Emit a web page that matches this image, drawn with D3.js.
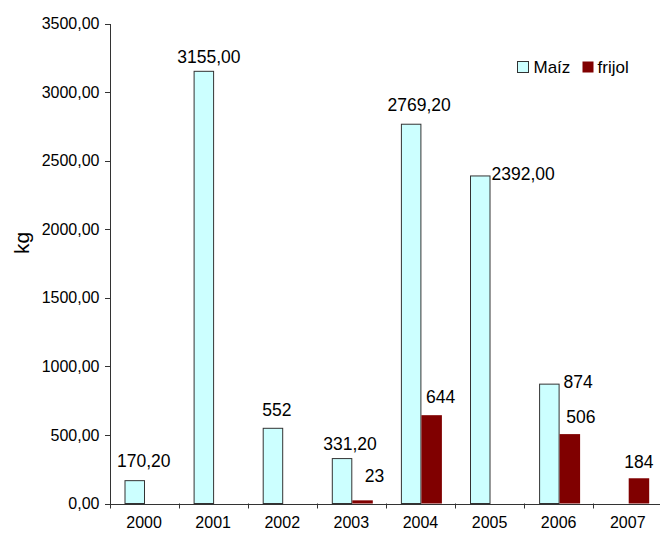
<!DOCTYPE html>
<html>
<head>
<meta charset="utf-8">
<script src="https://cdn.jsdelivr.net/npm/d3@7"></script>
<style>
  html, body { margin: 0; padding: 0; background: #fff; }
  svg { display: block; font-family: "Liberation Sans", Arial, sans-serif; }
</style>
</head>
<body>
<svg id="chart" width="660" height="534"></svg>
<script>
// Harvest per year (kg)
const years = ["2000", "2001", "2002", "2003", "2004", "2005", "2006", "2007"];
const maiz = [170.2, 3155.0, 552, 331.2, 2769.2, 2392.0, 874, null];
const frijol = [null, null, null, 23, 644, null, 506, 184];
const seriesNames = ["Maíz", "frijol"];
const maizLabels = ["170,20", "3155,00", "552", "331,20", "2769,20", "2392,00", "874", ""];
const frijolLabels = ["", "", "", "23", "644", "", "506", "184"];
const yTicks = [0, 500, 1000, 1500, 2000, 2500, 3000, 3500];

const colors = { "Maíz": "#CCFFFF", "frijol": "#800000" };

// Label placement: dx from bar centre, gap above bar top; "side" puts the label beside the bar
const maizLabelPos = [
  { dx: 9, gap: 13 }, { dx: 5, gap: 8 }, { dx: 4, gap: 11.5 }, { dx: 8, gap: 8 },
  { dx: 8, gap: 13 }, { side: 1, dy: 4.3 }, { side: 4, dy: 4 }, null
];
const frijolLabelPos = [
  null, null, null, { dx: 12, gap: 18.5 }, { dx: 9, gap: 12 }, null, { dx: 11, gap: 11 }, { dx: 0, gap: 10.6 }
];

const svg = d3.select("#chart");
const plotLeft = 109.5, plotRight = 662.3, plotTop = 23.5, plotBottom = 503.5;

const x0 = d3.scaleBand().domain(years).range([plotLeft, plotRight]).padding(0);
const x1 = d3.scaleBand().domain(seriesNames).range([15, 56]).padding(0);
const y = d3.scaleLinear().domain([0, 3500]).range([plotBottom, plotTop]);

const locale = d3.formatLocale({ decimal: ",", thousands: "", grouping: [3], currency: ["", ""] });
const fmt = locale.format(".2f");

// Y axis
const yAxis = svg.append("g")
  .attr("transform", `translate(${plotLeft},0)`)
  .call(d3.axisLeft(y).tickValues(yTicks).tickFormat(fmt).tickSize(5).tickPadding(5));
yAxis.selectAll("path, line").attr("stroke", "#333").attr("shape-rendering", "crispEdges");
yAxis.selectAll("text").attr("font-size", 16).attr("fill", "#000")
  .attr("font-family", "'Liberation Sans', Arial, sans-serif");

// Bars
const groups = svg.append("g").selectAll("g")
  .data(years)
  .join("g")
  .attr("transform", d => `translate(${x0(d)},0)`);

groups.each(function (yr, i) {
  const g = d3.select(this);
  if (maiz[i] != null) {
    g.append("rect")
      .attr("x", x1("Maíz") + 0.5)
      .attr("y", y(maiz[i]) + 0.5)
      .attr("width", x1.bandwidth() - 1)
      .attr("height", y(0) - y(maiz[i]) - 0.5)
      .attr("fill", colors["Maíz"])
      .attr("stroke", "#333")
      .attr("stroke-width", 1);
  }
  if (frijol[i] != null) {
    g.append("rect")
      .attr("x", x1("frijol"))
      .attr("y", y(frijol[i]))
      .attr("width", x1.bandwidth())
      .attr("height", y(0) - y(frijol[i]))
      .attr("fill", colors["frijol"]);
  }
});

// X axis
const xAxis = svg.append("g")
  .attr("transform", `translate(0,${plotBottom})`)
  .call(d3.axisBottom(x0).tickSize(0).tickPadding(13));
xAxis.select(".domain").attr("stroke", "#333").attr("shape-rendering", "crispEdges");
xAxis.selectAll("text").attr("font-size", 16).attr("fill", "#000")
  .attr("font-family", "'Liberation Sans', Arial, sans-serif");
xAxis.selectAll(".boundary")
  .data(years)
  .join("line")
  .attr("class", "boundary")
  .attr("x1", d => Math.round(x0(d)) + 0.5)
  .attr("x2", d => Math.round(x0(d)) + 0.5)
  .attr("y1", 0).attr("y2", 5)
  .attr("stroke", "#333");

// Value labels
const labelLayer = svg.append("g")
  .attr("font-size", 17.5)
  .attr("fill", "#000");

function addLabel(i, series, value, text, pos) {
  if (value == null || !pos) return;
  const bx = x0(years[i]) + x1(series);
  const bw = x1.bandwidth();
  const topY = y(value);
  if (pos.side !== undefined) {
    labelLayer.append("text")
      .attr("x", bx + bw + pos.side)
      .attr("y", topY + pos.dy)
      .attr("text-anchor", "start")
      .text(text);
  } else {
    labelLayer.append("text")
      .attr("x", bx + bw / 2 + pos.dx)
      .attr("y", topY - pos.gap)
      .attr("text-anchor", "middle")
      .text(text);
  }
}
years.forEach((yr, i) => {
  addLabel(i, "Maíz", maiz[i], maizLabels[i], maizLabelPos[i]);
  addLabel(i, "frijol", frijol[i], frijolLabels[i], frijolLabelPos[i]);
});

// Y axis title
svg.append("text")
  .attr("transform", "translate(29,243) rotate(-90)")
  .attr("text-anchor", "middle")
  .attr("font-size", 21)
  .text("kg");

// Legend
const legend = svg.append("g").attr("font-size", 17);
const legendItems = [
  { name: "Maíz", box: 517, text: 533.5, stroke: "#333" },
  { name: "frijol", box: 582, text: 597.5, stroke: null }
];
legendItems.forEach(item => {
  legend.append("rect")
    .attr("x", item.box + 0.5).attr("y", 61.5)
    .attr("width", 11).attr("height", 11)
    .attr("fill", colors[item.name])
    .attr("stroke", item.stroke ? item.stroke : "none");
  legend.append("text")
    .attr("x", item.text).attr("y", 72.5)
    .text(item.name);
});
</script>
</body>
</html>
